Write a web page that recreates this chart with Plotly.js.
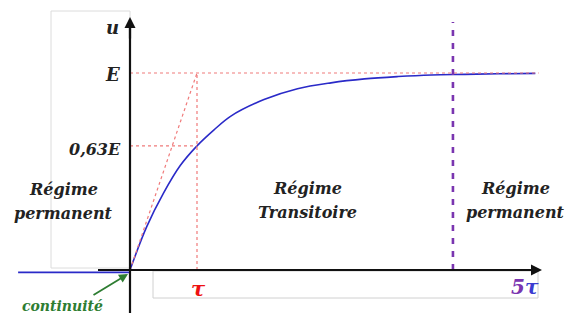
<!DOCTYPE html>
<html><head><meta charset="utf-8">
<script src="https://cdn.plot.ly/plotly-3.0.1.min.js"></script>
<style>html,body{margin:0;padding:0;background:#fff}#g{width:579px;height:316px}</style>
</head><body><div id="g"></div>
<script>
// Data (E = 1, tau = 1)
var tCurve = [0, 0.25, 0.5, 0.75, 1, 1.25, 1.5, 2, 2.5, 3, 3.5, 4, 4.5, 5, 5.5, 6.05];
var uCurve = [0, 0.22, 0.39, 0.53, 0.63, 0.71, 0.78, 0.865, 0.92, 0.95, 0.97, 0.982, 0.99, 0.993, 0.996, 0.998];
var tBefore = [-1.67, 0];
var uBefore = [-0.012, -0.012];
var tau = 1;
var E = 1;
var u63 = 0.63;
var tEnd = 6.1;
var tSteady = 4.82;

// pixel helpers for layout
var W = 579, H = 316, X0 = 130, Y0 = 270, SX = 67, SY = 197;
function X(px){return (px - X0) / SX;}
function Y(py){return (Y0 - py) / SY;}

var red = '#f07a7a';
var serif = 'DejaVu Serif, Liberation Serif, serif';
var traces = [
  {x: tCurve, y: uCurve, mode: 'lines', line: {color: '#2a2ac8', width: 1.6, shape: 'spline'}, hoverinfo: 'skip'},
  {x: tBefore, y: uBefore, mode: 'lines', line: {color: '#2a2ac8', width: 1.6}, hoverinfo: 'skip'}
];

var shapes = [
  {type: 'rect', x0: X(51), x1: 0, y0: Y(268), y1: Y(11), line: {color: '#dcdcdc', width: 1}, layer: 'below'},
  {type: 'rect', x0: X(153), x1: X(538), y0: Y(271), y1: Y(298), line: {color: '#d0d0d0', width: 1}, layer: 'below'},
  {type: 'line', x0: 0, x1: tEnd, y0: E, y1: E, line: {color: red, width: 1.2, dash: 'dot'}},
  {type: 'line', x0: 0, x1: tau, y0: u63, y1: u63, line: {color: red, width: 1.2, dash: 'dot'}},
  {type: 'line', x0: tau, x1: tau, y0: 0, y1: E, line: {color: red, width: 1.2, dash: 'dot'}},
  {type: 'line', x0: 0, x1: tau, y0: 0, y1: E, line: {color: red, width: 1.2, dash: 'dot'}},
  {type: 'line', x0: tSteady, x1: tSteady, y0: 0, y1: Y(22), line: {color: '#7a35b0', width: 2.6, dash: '6px,7px'}},
  {type: 'line', x0: X(98), x1: X(536), y0: 0, y1: 0, line: {color: '#111', width: 2.2}},
  {type: 'line', x0: 0, x1: 0, y0: Y(313), y1: Y(24), line: {color: '#111', width: 2.2}}
];

var txt = function(px, py, s, size, color, xa){
  return {xref: 'x', yref: 'y', x: X(px), y: Y(py), text: s, showarrow: false,
    xanchor: xa || 'center', yanchor: 'middle',
    font: {family: serif, size: size, color: color || '#222', weight: 'bold', style: 'italic'}};
};

var annotations = [
  {x: X(542), y: 0, ax: X(520), ay: 0, xref: 'x', yref: 'y', axref: 'x', ayref: 'y', text: '', showarrow: true, arrowhead: 2, arrowsize: 1, arrowwidth: 2.2, arrowcolor: '#111'},
  {x: 0, y: Y(17), ax: 0, ay: Y(40), xref: 'x', yref: 'y', axref: 'x', ayref: 'y', text: '', showarrow: true, arrowhead: 2, arrowsize: 1, arrowwidth: 2.2, arrowcolor: '#111'},
  {x: X(128), y: Y(274), ax: X(92), ay: Y(296), xref: 'x', yref: 'y', axref: 'x', ayref: 'y', text: '', showarrow: true, arrowhead: 2, arrowsize: 1, arrowwidth: 1.8, arrowcolor: '#2e7d32'},
  txt(121, 27, 'u', 18, '#222', 'right'),
  txt(122, 74, 'E', 18, '#222', 'right'),
  txt(123, 149, '0,63E', 16, '#222', 'right'),
  txt(63, 189, 'Régime', 16),
  txt(63, 213, 'permanent', 16),
  txt(307, 188, 'Régime', 16),
  txt(307, 212, 'Transitoire', 16),
  txt(515, 188, 'Régime', 16),
  txt(515, 212, 'permanent', 16),
  txt(198, 288, 'τ', 21, '#ee1111'),
  txt(525, 287, '<span style="color:#7a35b0">5</span><span style="color:#3b3bd0">τ</span>', 20, '#5b2fb0'),
  txt(62, 306, 'continuité', 14, '#2e7d32')
];

var layout = {
  width: W, height: H, margin: {l: 0, r: 0, t: 0, b: 0},
  paper_bgcolor: '#fff', plot_bgcolor: '#fff', showlegend: false,
  xaxis: {range: [X(0), X(W)], visible: false, fixedrange: true},
  yaxis: {range: [Y(H), Y(0)], visible: false, fixedrange: true},
  shapes: shapes, annotations: annotations
};
Plotly.newPlot('g', traces, layout, {staticPlot: true});
</script></body></html>
